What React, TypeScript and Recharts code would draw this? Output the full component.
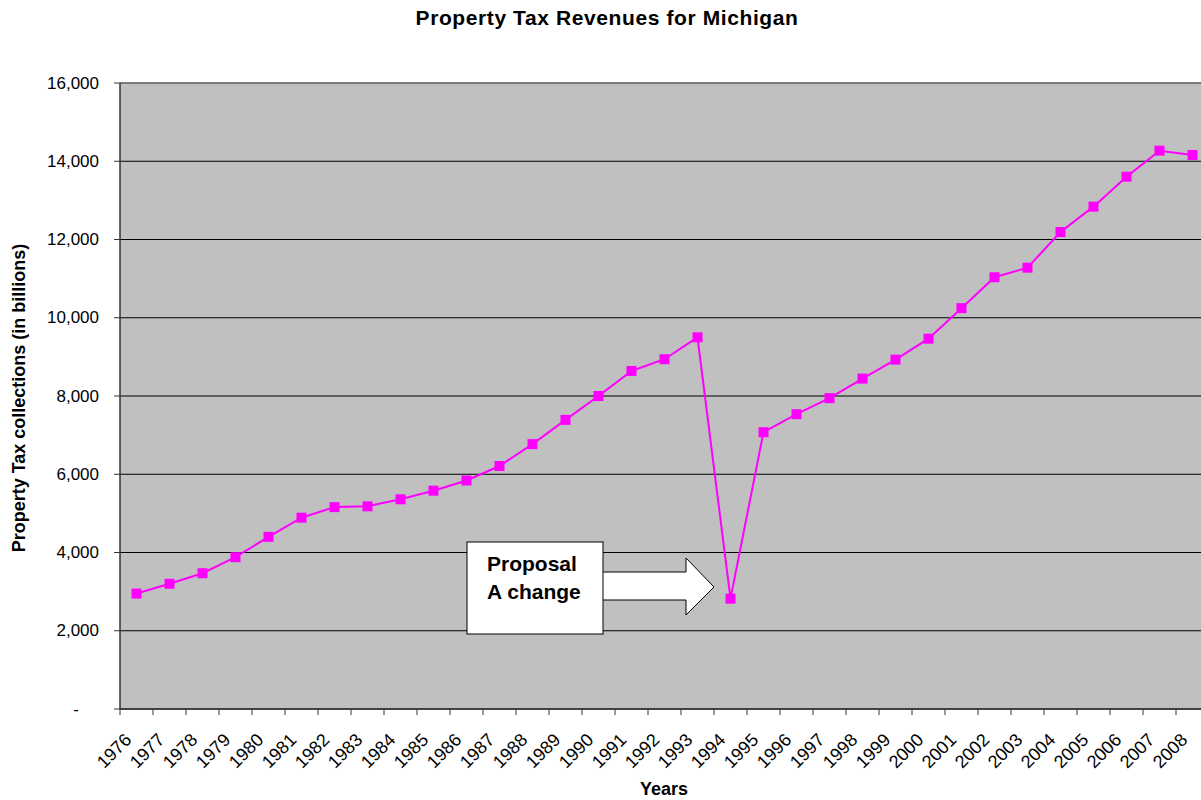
import { CartesianGrid, Line, LineChart, ReferenceLine, XAxis, YAxis } from "recharts";

const years = [
  "1976", "1977", "1978", "1979", "1980", "1981", "1982", "1983", "1984",
  "1985", "1986", "1987", "1988", "1989", "1990", "1991", "1992", "1993",
  "1994", "1995", "1996", "1997", "1998", "1999", "2000", "2001", "2002",
  "2003", "2004", "2005", "2006", "2007", "2008",
];

const collections = [
  2950, 3200, 3470, 3880, 4400, 4890, 5160, 5180, 5360, 5580, 5840, 6210,
  6770, 7390, 8000, 8640, 8940, 9500, 2820, 7075, 7535, 7945, 8445, 8930,
  9465, 10245, 11035, 11280, 12190, 12840, 13605, 14270, 14160,
];

const yTicks = [0, 2000, 4000, 6000, 8000, 10000, 12000, 14000, 16000];

const rows = years.map((year, i) => ({ year, value: collections[i] }));

const FONT = "'Liberation Sans', Arial, sans-serif";
const PLOT_LEFT = 120;
const PLOT_TOP = 83;
const PLOT_BOTTOM = 709;
const BAND = 33;
const CHART_W = PLOT_LEFT + BAND * years.length;
const CHART_H = 800;

function YearTick(props: any) {
  const { x, y, payload } = props;
  const edge = x - BAND / 2;
  return (
    <g>
      <line x1={edge} y1={y} x2={edge} y2={y + 6} stroke="#333" />
      <text
        x={x - 4}
        y={y + 32}
        textAnchor="end"
        fontSize={18}
        fontFamily={FONT}
        fill="#000"
        transform={`rotate(-45 ${x - 4} ${y + 32})`}
      >
        {payload.value}
      </text>
    </g>
  );
}

function ValueTick(props: any) {
  const { x, y, payload } = props;
  const v = payload.value as number;
  const label = v === 0 ? "-" : v.toLocaleString("en-US");
  return (
    <text
      x={v === 0 ? x - 20 : x}
      y={y}
      textAnchor="end"
      dominantBaseline="central"
      fontSize={17}
      fontFamily={FONT}
      fill="#000"
    >
      {label}
    </text>
  );
}

function SquareDot(props: any) {
  const { cx, cy } = props;
  if (cx == null || cy == null) return null;
  return <rect x={cx - 5} y={cy - 5} width={10} height={10} fill="#FF00FF" />;
}

export default function App() {
  return (
    <div
      style={{
        position: "absolute",
        left: 0,
        top: 0,
        width: 1201,
        height: CHART_H,
        overflow: "hidden",
        background: "#fff",
      }}
    >
      <LineChart
        width={CHART_W}
        height={CHART_H}
        data={rows}
        margin={{ top: PLOT_TOP, right: 0, bottom: 0, left: 0 }}
      >
        <CartesianGrid
          vertical={false}
          fill="#C0C0C0"
          fillOpacity={1}
          stroke="#000"
          strokeDasharray=""
        />
        <XAxis
          dataKey="year"
          scale="band"
          interval={0}
          height={CHART_H - PLOT_BOTTOM}
          tickSize={0}
          tickMargin={0}
          tickLine={false}
          axisLine={{ stroke: "#333", strokeWidth: 1.5 }}
          tick={<YearTick />}
        />
        <YAxis
          width={PLOT_LEFT}
          domain={[0, 16000]}
          ticks={yTicks}
          interval={0}
          tickSize={6}
          tickMargin={15}
          axisLine={{ stroke: "#333", strokeWidth: 1.5 }}
          tickLine={{ stroke: "#333" }}
          tick={<ValueTick />}
        />
        <ReferenceLine y={16000} stroke="#808080" strokeWidth={1.5} />
        <Line
          type="linear"
          dataKey="value"
          stroke="#FF00FF"
          strokeWidth={2}
          dot={<SquareDot />}
          activeDot={false}
          isAnimationActive={false}
        />
      </LineChart>
      <svg
        width={1201}
        height={CHART_H}
        style={{ position: "absolute", left: 0, top: 0, pointerEvents: "none" }}
        fontFamily={FONT}
      >
        <text
          x={607}
          y={25}
          textAnchor="middle"
          fontSize={21}
          fontWeight="bold"
          letterSpacing={0.6}
        >
          Property Tax Revenues for Michigan
        </text>
        <text
          x={25}
          y={398}
          textAnchor="middle"
          fontSize={18}
          fontWeight="bold"
          transform="rotate(-90 25 398)"
        >
          Property Tax collections (in billions)
        </text>
        <text x={664} y={795} textAnchor="middle" fontSize={18} fontWeight="bold">
          Years
        </text>
        <polygon
          points="596,572 686,572 686,558 714,587 686,615 686,600 596,600"
          fill="#fff"
          stroke="#000"
          strokeWidth={1}
        />
        <rect x={467} y={542} width={136} height={92} fill="#fff" stroke="#000" strokeWidth={1} />
        <text x={487} y={571} fontSize={21} fontWeight="bold">
          Proposal
        </text>
        <text x={487} y={599} fontSize={21} fontWeight="bold">
          A change
        </text>
      </svg>
    </div>
  );
}
